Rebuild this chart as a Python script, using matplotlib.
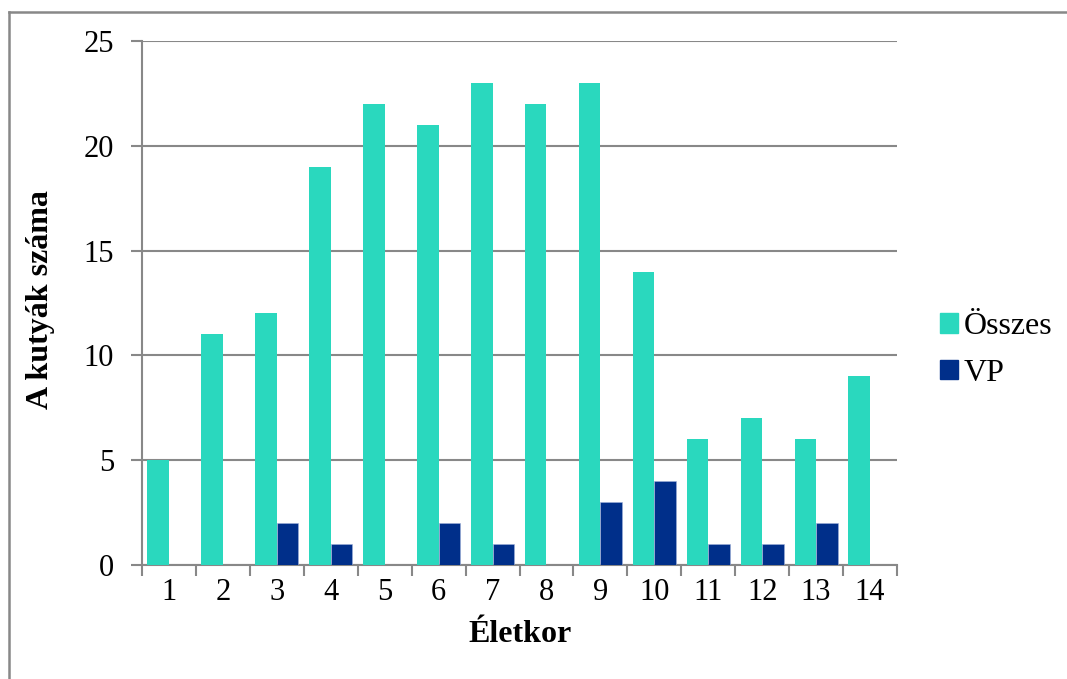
import matplotlib
matplotlib.use("Agg")
import matplotlib.pyplot as plt
from matplotlib.lines import Line2D
from matplotlib.patches import Patch
import numpy as np

categories = ["1", "2", "3", "4", "5", "6", "7", "8", "9", "10", "11", "12", "13", "14"]
osszes = [5, 11, 12, 19, 22, 21, 23, 22, 23, 14, 6, 7, 6, 9]
vp = [0, 0, 2, 1, 0, 2, 1, 0, 3, 4, 1, 1, 2, 0]
series_names = ["Összes", "VP"]
yticks = [0, 5, 10, 15, 20, 25]

plt.rcParams['font.family'] = ['Liberation Serif', 'DejaVu Serif']

W, H = 1067, 679
fig = plt.figure(figsize=(W / 100, H / 100), dpi=100)
ax = fig.add_axes([142 / W, 1 - 565 / H, (897 - 142) / W, (565 - 41) / H])

teal = "#2AD8BE"
navy = "#002F8A"
grid_c = "#888888"

x = np.arange(1, len(categories) + 1)
bw = 0.4
ax.bar(x - bw / 2, osszes, width=bw, color=teal, zorder=3, label=series_names[0])
ax.bar(x + bw / 2, vp, width=bw, color=navy, edgecolor="#9fb0d8", linewidth=0.4, zorder=3, label=series_names[1])

ax.set_xlim(0.5, len(categories) + 0.5)
ax.set_ylim(0, 25)
ax.set_yticks(yticks)
ax.set_yticklabels([str(t) for t in yticks], fontsize=22)
ax.yaxis.grid(True, color=grid_c, linewidth=1.5, zorder=0)
ax.set_axisbelow(True)

ax.set_xticks(np.arange(0.5, len(categories) + 1, 1))
ax.set_xticklabels([])
ax.set_xticks(x, minor=True)
ax.set_xticklabels(categories, minor=True, fontsize=22)
ax.tick_params(axis='x', which='minor', length=0, pad=9)
ax.tick_params(axis='x', which='major', length=8, width=1.5, color=grid_c)
ax.tick_params(axis='y', length=8, width=1.5, color=grid_c, pad=12)

for s in ['top', 'right']:
    ax.spines[s].set_visible(False)
for s in ['left', 'bottom']:
    ax.spines[s].set_color(grid_c)
    ax.spines[s].set_linewidth(1.5)

fig.text(41 / W, 1 - 300 / H, "A kutyák száma", rotation=90, fontsize=23,
         fontweight='bold', ha='center', va='center')
fig.text(520 / W, 1 - 635 / H, "Életkor", fontsize=23, fontweight='bold',
         ha='center', va='center')

handles = [Patch(color=teal), Patch(color=navy)]
fig.legend(handles, series_names, loc='center left',
           bbox_to_anchor=(940 / W, 1 - 350 / H), frameon=False, fontsize=23,
           borderpad=0, borderaxespad=0,
           handlelength=0.55, handleheight=0.55, handletextpad=0.2, labelspacing=0.55)

# outer border (top and left)
fig.add_artist(Line2D([9 / W, 9 / W], [0, 1 - 12 / H], transform=fig.transFigure,
                      color=grid_c, linewidth=1.8))
fig.add_artist(Line2D([9 / W, 1], [1 - 12 / H, 1 - 12 / H], transform=fig.transFigure,
                      color=grid_c, linewidth=1.8))

fig.savefig("out.png", dpi=100)
